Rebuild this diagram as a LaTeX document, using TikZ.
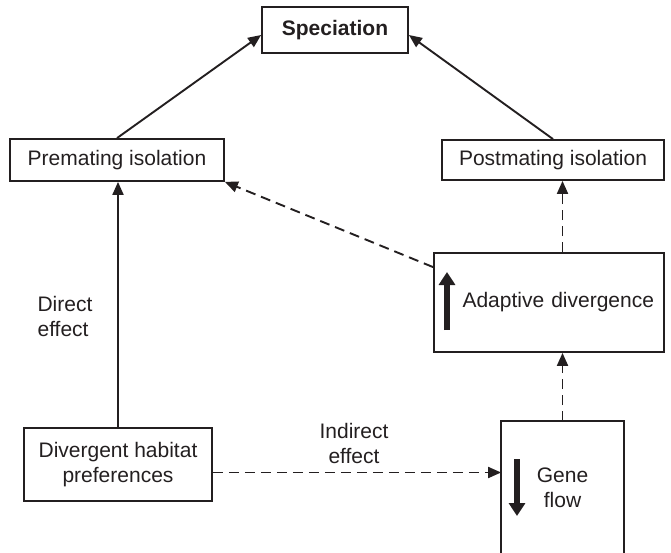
\documentclass[tikz,border=0pt]{standalone}
\usepackage{fontspec}
\setmainfont{Liberation Sans}
\usetikzlibrary{arrows.meta}
\definecolor{ink}{HTML}{231F20}

\begin{document}
\begin{tikzpicture}[x=1pt,y=-1pt]
\tikzstyle{box}=[rectangle,draw=ink,line width=1.8pt,inner sep=0pt,
align=center,text=ink,font=\fontsize{21}{25}\selectfont]
\tikzstyle{lbl}=[inner sep=0pt,text=ink,font=\fontsize{21}{25}\selectfont]
\tikzstyle{link}=[draw=ink,line width=1.9pt,-{Triangle[length=13pt,width=11pt]}]
\tikzstyle{dlink}=[link,dash pattern=on 10pt off 6pt]
\tikzstyle{bigarrow}=[draw=ink,line width=5.5pt,-{Triangle[length=13pt,width=16pt]}]
\useasboundingbox (0,0) rectangle (671,553);

\node[box,minimum width=146,minimum height=46,font=\fontsize{21}{25}\selectfont\bfseries] at (335,30) (spec) {Speciation};
\node[box,minimum width=214,minimum height=42] at (117,160) (pre) {Premating isolation};
\node[box,minimum width=222,minimum height=40] at (553,160) (post) {Postmating isolation};
\node[box,minimum width=230,minimum height=99,text width=210,align=right] at (549,302.5) (adapt) {Adaptive divergence};
\node[box,minimum width=188,minimum height=73] at (118,464.5) (hab) {Divergent habitat\\preferences};
\node[box,draw=none,minimum width=121,minimum height=131] at (562.5,487.5) (gene) {Gene\\flow};
\draw[draw=ink,line width=1.8pt] (gene.south west) -- (gene.north west) -- (gene.north east) -- (gene.south east);

\node[lbl,align=left] at (65,316) (direct) {Direct\\effect};
\node[lbl,align=center] at (354,443) (indirect) {Indirect\\effect};

\draw[bigarrow] (447,330) -- (447,272);
\draw[bigarrow] (517,459) -- (517,516);

\path (pre.north) edge[link] ([yshift=-5pt]spec.west);
\path (post.north) edge[link] ([yshift=-5pt]spec.east);
\path (hab.north) edge[link] (hab.north |- pre.south);
\path ([yshift=-15pt]adapt.north west) edge[dlink] (pre.south east);
\path (gene.north |- adapt.north) edge[dlink] (gene.north |- post.south);
\path (gene.north) edge[dlink] (gene.north |- adapt.south);
\path ([yshift=-8pt]hab.east) edge[dlink] ([yshift=-8pt]hab.east -| gene.west);

\end{tikzpicture}
\end{document}
